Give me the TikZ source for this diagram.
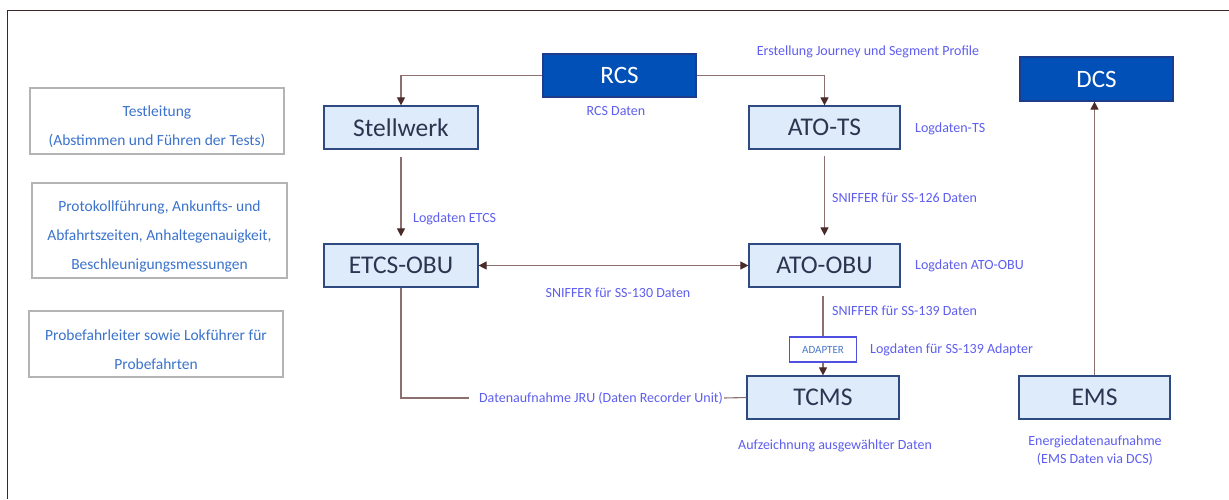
\documentclass[tikz,border=0pt]{standalone}
\usepackage{fontspec}
\setmainfont{Carlito}
\usetikzlibrary{arrows.meta,calc}
\definecolor{framec}{HTML}{3A2828}
\definecolor{darkfill}{HTML}{0050B8}
\definecolor{darkborder}{HTML}{1E3C8C}
\definecolor{lightfill}{HTML}{DDEBFB}
\definecolor{lightborder}{HTML}{2E4A80}
\definecolor{boxtext}{HTML}{2C3550}
\definecolor{labelc}{HTML}{5E5EF0}
\definecolor{sidetext}{HTML}{3B73CC}
\definecolor{sideborder}{HTML}{B4B4B4}
\definecolor{linec}{HTML}{8C7070}
\definecolor{tipc}{HTML}{4B2A2A}
\definecolor{adapterc}{HTML}{5050E0}
\definecolor{adaptertext}{HTML}{4A78C8}
\newcommand{\toppad}{\rule{0pt}{22pt}}
\tikzset{
  darkbox/.style={draw=darkborder, line width=1.2pt, fill=darkfill, text=white,
    font=\fontsize{25}{28}\selectfont, minimum width=153pt, minimum height=43pt, inner sep=0pt},
  lightbox/.style={draw=lightborder, line width=1.2pt, fill=lightfill, text=boxtext,
    font=\fontsize{25.5}{28}\selectfont, minimum width=153pt, minimum height=43pt, inner sep=0pt},
  sidebox/.style={draw=sideborder, line width=1.2pt, text=sidetext, align=center,
    font=\fontsize{15.5}{29}\selectfont, inner sep=0pt},
  lbl/.style={text=labelc, font=\fontsize{14}{18}\selectfont, inner sep=0pt},
  conn/.style={draw=linec, line width=1.1pt, -{Triangle[width=8pt,length=8pt,fill=tipc,color=tipc]}},
  biconn/.style={draw=linec, line width=1.1pt, {Triangle[width=8pt,length=8pt,fill=tipc,color=tipc]}-{Triangle[width=8pt,length=8pt,fill=tipc,color=tipc]}},
  plain/.style={draw=linec, line width=1.1pt},
  adapterbox/.style={draw=adapterc, line width=1.2pt, fill=white, text=adaptertext,
    font=\fontsize{11}{13}\selectfont, minimum width=67pt, minimum height=25pt, inner sep=0pt}
}
\begin{document}
\begin{tikzpicture}[x=1pt,y=-1pt]
\useasboundingbox (0,0) rectangle (1229,499);
\fill[white] (0,0) rectangle (1229,499);
\draw[framec, line width=1.6pt] (7.5,499) -- (7.5,10.5) -- (1229,10.5);

% side boxes
\node[sidebox, minimum width=254pt, minimum height=66pt] (testl) at (157,121) {\toppad Testleitung\\(Abstimmen und Führen der Tests)};
\node[sidebox, minimum width=255pt, minimum height=95pt] (proto) at (159.5,230.5) {\toppad Protokollführung, Ankunfts- und\\Abfahrtszeiten, Anhaltegenauigkeit,\\Beschleunigungsmessungen};
\node[sidebox, minimum width=254pt, minimum height=66pt] (probe) at (156,344) {\toppad Probefahrleiter sowie Lokführer für\\Probefahrten};

% main boxes
\node[darkbox] (rcs) at (619.5,75.5) {RCS};
\node[darkbox, minimum height=44pt] (dcs) at (1096.5,79) {DCS};
\node[lightbox, minimum width=154pt] (stw) at (401,127.5) {Stellwerk};
\node[lightbox, minimum width=151pt] (atots) at (824.5,127.5) {ATO-TS};
\node[lightbox, minimum width=154pt] (etcs) at (401,265.5) {ETCS-OBU};
\node[lightbox, minimum width=151pt] (atoobu) at (824.5,265.5) {ATO-OBU};
\node[lightbox, minimum width=152pt] (tcms) at (823,397.5) {TCMS};
\node[lightbox, minimum width=151pt] (ems) at (1094.5,397.5) {EMS};
\node[adapterbox] (adapter) at (823,349.5) {ADAPTER};

% labels
\node[lbl] (lprof) at (868,52) {Erstellung Journey und Segment Profile};
\node[lbl] (lrcs) at (616,111) {RCS Daten};
\node[lbl, anchor=west] (lts) at (915,129) {Logdaten-TS};
\node[lbl, anchor=west] (letcs) at (413,219) {Logdaten ETCS};
\node[lbl, anchor=west] (l126) at (832,198) {SNIFFER für SS-126 Daten};
\node[lbl] (l130) at (618,293) {SNIFFER für SS-130 Daten};
\node[lbl, anchor=west] (lato) at (915,266) {Logdaten ATO-OBU};
\node[lbl, anchor=west] (l139) at (832,311) {SNIFFER für SS-139 Daten};
\node[lbl, anchor=west] (ladapt) at (870,350) {Logdaten für SS-139 Adapter};
\node[lbl] (jru) at (601,398) {Datenaufnahme JRU (Daten Recorder Unit)};
\node[lbl, anchor=west] (laufz) at (738,446) {Aufzeichnung ausgewählter Daten};
\node[lbl, align=center, font=\fontsize{14}{18}\selectfont] (lems) at (1095,451) {Energiedatenaufnahme\\(EMS Daten via DCS)};

% connectors
\draw[conn] (rcs.west) -| (stw.north);
\draw[conn] (rcs.east) -| (atots.north);
\draw[conn] ($(stw.south)+(0,7)$) -- ($(etcs.north)+(0,-7)$);
\draw[conn] ($(atots.south)+(0,6)$) -- ($(atoobu.north)+(0,-8)$);
\draw[biconn] (etcs.east) -- (atoobu.west);
\draw[plain] ([yshift=-8pt]atoobu.south -| adapter.north) -- (adapter.north);
\draw[conn] (adapter.south) -- (adapter.south |- tcms.north);
\draw[plain] (etcs.south) |- ([xshift=-10pt]jru.west);
\draw[plain] ([xshift=1pt]jru.east) -- (tcms.west);
\draw[conn] (ems.north) -- (ems.north |- dcs.south);
\end{tikzpicture}
\end{document}
